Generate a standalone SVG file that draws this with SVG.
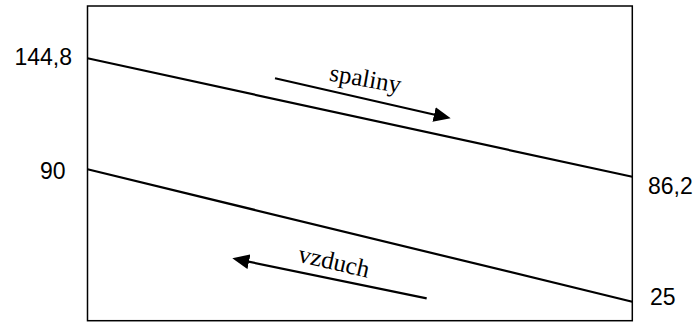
<svg xmlns="http://www.w3.org/2000/svg" width="697" height="322" viewBox="0 0 697 322">
<style>
.frame{fill:none;stroke:#000;stroke-width:1.5}
.flow{fill:none;stroke:#000;stroke-width:2.2}
.arr{fill:none;stroke:#000;stroke-width:2.2}
.num{font-family:"Liberation Sans",Arial,sans-serif;font-size:23px;fill:#000}
.lbl{font-family:"Liberation Serif","Times New Roman",serif;font-size:25px;fill:#000}
</style>
<defs>
<marker id="ah" markerUnits="userSpaceOnUse" markerWidth="17" markerHeight="15" refX="12" refY="7.5" orient="auto">
<path d="M0,0 L17,7.5 L0,15 z" fill="#000"/>
</marker>
</defs>
<g id="frame"><rect class="frame" x="87.5" y="6" width="544.8" height="314.7"/></g>
<g id="connectors">
<line class="flow" x1="87.5" y1="58.3" x2="632.3" y2="176.8"/>
<line class="flow" x1="87.5" y1="169.3" x2="632.3" y2="301.7"/>
<line class="arr" x1="275" y1="78.3" x2="445.8" y2="117.2" marker-end="url(#ah)"/>
<line class="arr" x1="426.7" y1="298.3" x2="237.2" y2="259.3" marker-end="url(#ah)"/>
</g>
<g id="labels">
<text class="num" x="72" y="65" text-anchor="end">144,8</text>
<text class="num" x="65.5" y="179.3" text-anchor="end">90</text>
<text class="num" x="648" y="194">86,2</text>
<text class="num" x="650" y="305">25</text>
<text class="lbl" transform="translate(328.5,80.5) rotate(10)">spaliny</text>
<text class="lbl" transform="translate(297,261.5) rotate(13)">vzduch</text>
</g>
</svg>
